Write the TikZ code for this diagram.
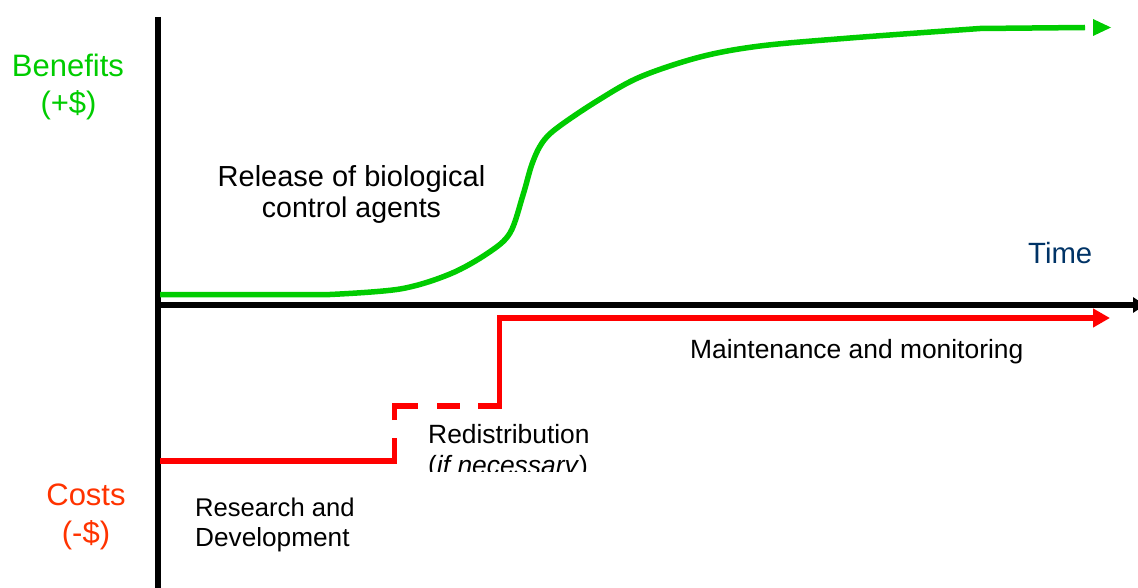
\documentclass[tikz,border=0pt]{standalone}
\usepackage{fontspec}
\setmainfont{Liberation Sans}
\usetikzlibrary{arrows.meta}
\definecolor{benegreen}{RGB}{0,204,0}
\definecolor{costred}{RGB}{255,51,0}
\definecolor{linered}{RGB}{255,0,0}
\definecolor{timeblue}{RGB}{0,51,102}
\tikzset{
  axisline/.style={line width=5.5pt, black},
  greenline/.style={line width=5.5pt, benegreen},
  redline/.style={line width=5.5pt, linered},
  labeltext/.style={inner sep=0pt, font=\fontsize{31}{37}\selectfont},
  bodytext/.style={inner sep=0pt, font=\fontsize{26.4}{30}\selectfont, text=black},
}
\begin{document}
\begin{tikzpicture}[x=1pt,y=-1pt]
\useasboundingbox (0,0) rectangle (1138,588);
\clip (0,0) rectangle (1138,588);
% axes
\coordinate (ytop) at (158,17);
\coordinate (ybot) at (158,592);
\coordinate (xleft) at (155.25,305);
\coordinate (xright) at (1145,305);
\draw[axisline] (ytop) -- (ybot);
\draw[axisline, -{Triangle[length=12pt,width=15pt]}] (xleft) -- (xright);
% benefits curve
\coordinate (gstart) at (160,294.5);
\coordinate (gend) at (1085,27.5);
\draw[greenline]
  (gstart) -- plot[smooth, tension=0.55] coordinates {(330,294.5) (400,289) (450,274) (488,253) (510,233) (523,195) (532,164) (542,143) (557,128) (597,101) (640,77) (700,57) (760,46) (850,38) (980,28.5)} -- (gend);
\fill[benegreen] (1093,19) -- (1111,27.5) -- (1093,36) -- cycle;
% costs line
\coordinate (r0) at (160,461);
\coordinate (r1) at (394.5,461);
\coordinate (r2) at (394.5,438);
\coordinate (r3) at (394.5,420);
\coordinate (r4) at (394.5,406);
\coordinate (r5) at (418,406);
\coordinate (r6) at (437,406);
\coordinate (r7) at (460,406);
\coordinate (r8) at (478,406);
\coordinate (r9) at (499.5,406);
\coordinate (r10) at (499.5,318);
\coordinate (r11) at (1110,318);
\draw[redline] (r0) -- (r1) -- (r2);
\draw[redline] (r3) -- (r4) -- (r5);
\draw[redline] (r6) -- (r7);
\draw[redline, -{Triangle[length=17pt,width=18pt]}] (r8) -- (r9) -- (r10) -- (r11);
% labels
\node[labeltext, text=benegreen, anchor=base] (ben1) at (68,77) {Benefits};
\node[labeltext, text=benegreen, anchor=base] (ben2) at (68.5,114) {(+\$)};
\node[labeltext, text=costred, anchor=base] (cost1) at (86,505) {Costs};
\node[labeltext, text=costred, anchor=base] (cost2) at (86,543) {(-\$)};
\node[inner sep=0pt, font=\fontsize{29.3}{34}\selectfont, text=timeblue, anchor=base west] (time) at (1028,263) {Time};
\node[bodytext, font=\fontsize{29}{34}\selectfont, anchor=base] (rel1) at (351.5,187) {Release of biological};
\node[bodytext, font=\fontsize{28.5}{34}\selectfont, anchor=base] (rel2) at (351.5,218) {control agents};
\node[bodytext, anchor=base west] (maint) at (690,358) {Maintenance and monitoring};
\node[bodytext, font=\fontsize{25.6}{30}\selectfont, anchor=base west] (res1) at (195,516) {Research and};
\node[bodytext, font=\fontsize{26.2}{30}\selectfont, anchor=base west] (res2) at (195,546) {Development};
\node[bodytext, anchor=base west] (redis1) at (428,443) {Redistribution};
\begin{scope}
\clip (400,430) rectangle (640,471.5);
\node[bodytext, anchor=base west] (redis2) at (428,474) {(\textit{if necessary})};
\end{scope}
\end{tikzpicture}
\end{document}
